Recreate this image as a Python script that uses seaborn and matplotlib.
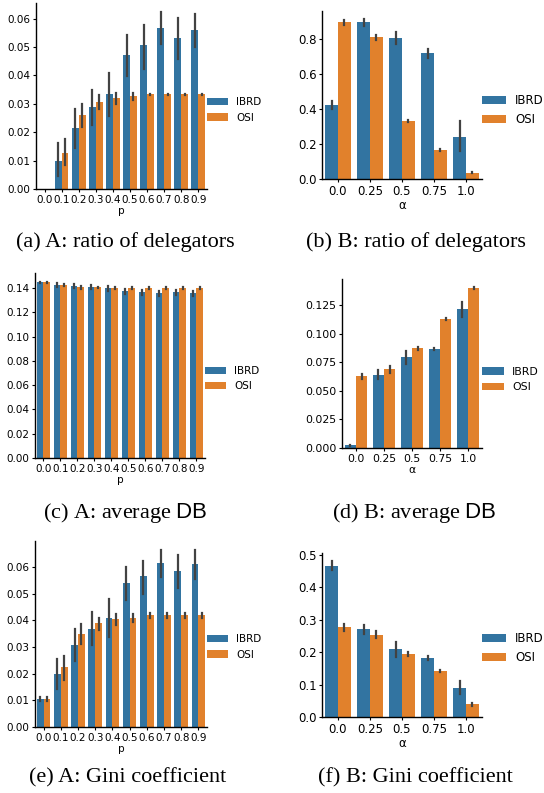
import pandas as pd
import matplotlib
matplotlib.use('Agg')
import matplotlib.pyplot as plt
import seaborn as sns
from matplotlib.ticker import MultipleLocator

plt.rcParams['mathtext.fontset'] = 'custom'
plt.rcParams['mathtext.sf'] = 'Liberation Sans'
plt.rcParams['mathtext.rm'] = 'Liberation Serif'

# categories
p_vals = ['0.0', '0.1', '0.2', '0.3', '0.4', '0.5', '0.6', '0.7', '0.8', '0.9']
alpha_vals = ['0.0', '0.25', '0.5', '0.75', '1.0']
methods = ['IBRD', 'OSI']

# (a) A: ratio of delegators
a_ibrd = [0.0, 0.0099, 0.0214, 0.0288, 0.0333, 0.0472, 0.0508, 0.0568, 0.0533, 0.0561]
a_ibrd_lo = [0.0, 0.0044, 0.0143, 0.0225, 0.0258, 0.0399, 0.0424, 0.0510, 0.0458, 0.0499]
a_ibrd_hi = [0.0, 0.0161, 0.0283, 0.0350, 0.0409, 0.0542, 0.0577, 0.0624, 0.0603, 0.0615]
a_osi = [0.0, 0.0127, 0.0260, 0.0305, 0.0319, 0.0326, 0.0333, 0.0333, 0.0333, 0.0333]
a_osi_lo = [0.0, 0.0085, 0.0217, 0.0280, 0.0300, 0.0315, 0.0331, 0.0331, 0.0331, 0.0331]
a_osi_hi = [0.0, 0.0176, 0.0301, 0.0330, 0.0337, 0.0337, 0.0335, 0.0335, 0.0335, 0.0335]

# (b) B: ratio of delegators
b_ibrd = [0.425, 0.898, 0.807, 0.722, 0.240]
b_ibrd_lo = [0.402, 0.876, 0.771, 0.696, 0.163]
b_ibrd_hi = [0.446, 0.917, 0.841, 0.747, 0.331]
b_osi = [0.898, 0.813, 0.331, 0.166, 0.036]
b_osi_lo = [0.885, 0.798, 0.326, 0.163, 0.032]
b_osi_hi = [0.909, 0.826, 0.336, 0.169, 0.040]

# (c) A: average DB
c_ibrd = [0.1446, 0.1427, 0.1416, 0.1408, 0.1397, 0.1372, 0.1364, 0.1356, 0.1364, 0.1356]
c_ibrd_lo = [0.1441, 0.1409, 0.1398, 0.1390, 0.1377, 0.1352, 0.1344, 0.1334, 0.1344, 0.1336]
c_ibrd_hi = [0.1451, 0.1445, 0.1434, 0.1426, 0.1417, 0.1392, 0.1384, 0.1378, 0.1384, 0.1376]
c_osi = [0.1446, 0.1427, 0.1405, 0.1405, 0.1400, 0.1400, 0.1400, 0.1400, 0.1400, 0.1400]
c_osi_lo = [0.1441, 0.1417, 0.1395, 0.1398, 0.1392, 0.1393, 0.1393, 0.1393, 0.1393, 0.1393]
c_osi_hi = [0.1451, 0.1437, 0.1415, 0.1412, 0.1408, 0.1407, 0.1407, 0.1407, 0.1407, 0.1407]

# (d) B: average DB
d_ibrd = [0.0023, 0.0637, 0.0794, 0.0864, 0.1215]
d_ibrd_lo = [0.0018, 0.0602, 0.0733, 0.0857, 0.1142]
d_ibrd_hi = [0.0028, 0.0680, 0.0850, 0.0871, 0.1280]
d_osi = [0.0628, 0.0689, 0.0870, 0.1127, 0.1399]
d_osi_lo = [0.0599, 0.0657, 0.0860, 0.1117, 0.1392]
d_osi_hi = [0.0651, 0.0715, 0.0880, 0.1137, 0.1406]

# (e) A: Gini coefficient
e_ibrd = [0.0106, 0.0198, 0.0306, 0.0369, 0.0410, 0.0541, 0.0565, 0.0616, 0.0586, 0.0610]
e_ibrd_lo = [0.0098, 0.0144, 0.0248, 0.0306, 0.0338, 0.0475, 0.0500, 0.0563, 0.0523, 0.0554]
e_ibrd_hi = [0.0114, 0.0256, 0.0369, 0.0431, 0.0479, 0.0599, 0.0625, 0.0664, 0.0646, 0.0665]
e_osi = [0.0104, 0.0224, 0.0351, 0.0389, 0.0404, 0.0410, 0.0419, 0.0419, 0.0419, 0.0419]
e_osi_lo = [0.0097, 0.0176, 0.0313, 0.0366, 0.0384, 0.0394, 0.0411, 0.0411, 0.0411, 0.0411]
e_osi_hi = [0.0111, 0.0268, 0.0388, 0.0411, 0.0423, 0.0425, 0.0427, 0.0427, 0.0427, 0.0427]

# (f) B: Gini coefficient
f_ibrd = [0.467, 0.271, 0.210, 0.183, 0.091]
f_ibrd_lo = [0.454, 0.256, 0.186, 0.177, 0.071]
f_ibrd_hi = [0.482, 0.284, 0.232, 0.189, 0.110]
f_osi = [0.277, 0.253, 0.194, 0.142, 0.039]
f_osi_lo = [0.267, 0.243, 0.187, 0.138, 0.035]
f_osi_hi = [0.286, 0.264, 0.201, 0.146, 0.043]


def to_long(cats, ibrd, ibrd_lo, ibrd_hi, osi, osi_lo, osi_hi):
    # three rows per bar: the median is the bar, min..max is the error bar
    rows = []
    for name, m, lo, hi in [('IBRD', ibrd, ibrd_lo, ibrd_hi), ('OSI', osi, osi_lo, osi_hi)]:
        for c, v, l, h in zip(cats, m, lo, hi):
            for val in (l, v, h):
                rows.append({'x': c, 'method': name, 'value': val})
    return pd.DataFrame(rows)


panels = [
    # data, cats, xlabel, axes rect, tick size, ystep, legend y
    (to_long(p_vals, a_ibrd, a_ibrd_lo, a_ibrd_hi, a_osi, a_osi_lo, a_osi_hi),
     p_vals, 'p', [0.0662, 0.7617, 0.314, 0.2346], 7.5, 0.01, 0.425),
    (to_long(alpha_vals, b_ibrd, b_ibrd_lo, b_ibrd_hi, b_osi, b_osi_lo, b_osi_hi),
     alpha_vals, 'α', [0.5919, 0.7743, 0.2941, 0.2119], 8.5, 0.2, 0.41),
    (to_long(p_vals, c_ibrd, c_ibrd_lo, c_ibrd_hi, c_osi, c_osi_lo, c_osi_hi),
     p_vals, 'p', [0.0643, 0.4224, 0.3125, 0.2333], 7.5, 0.02, 0.43),
    (to_long(alpha_vals, d_ibrd, d_ibrd_lo, d_ibrd_hi, d_osi, d_osi_lo, d_osi_hi),
     alpha_vals, 'α', [0.6287, 0.4350, 0.2574, 0.2131], 7.8, 0.025, 0.405),
    (to_long(p_vals, e_ibrd, e_ibrd_lo, e_ibrd_hi, e_osi, e_osi_lo, e_osi_hi),
     p_vals, 'p', [0.0643, 0.0832, 0.3162, 0.2346], 7.5, 0.01, 0.43),
    (to_long(alpha_vals, f_ibrd, f_ibrd_lo, f_ibrd_hi, f_osi, f_osi_lo, f_osi_hi),
     alpha_vals, 'α', [0.5919, 0.0958, 0.2941, 0.2068], 8.5, 0.1, 0.42),
]

captions = [
    (0.230, 0.695, '(a) A: ratio of delegators'),
    (0.765, 0.695, '(b) B: ratio of delegators'),
    (0.230, 0.353, '(c) A: average $\\mathsf{DB}$'),
    (0.762, 0.353, '(d) B: average $\\mathsf{DB}$'),
    (0.235, 0.019, '(e) A: Gini coefficient'),
    (0.763, 0.019, '(f) B: Gini coefficient'),
]

fig = plt.figure(figsize=(5.44, 7.93), dpi=100)

for df, cats, xlab, rect, fs, ystep, leg_y in panels:
    ax = fig.add_axes(rect)
    sns.barplot(data=df, x='x', y='value', hue='method', order=cats, hue_order=methods,
                estimator='median', errorbar=('pi', 100), err_kws={'linewidth': 1.6},
                ax=ax)
    sns.despine(ax=ax)
    ax.yaxis.set_major_locator(MultipleLocator(ystep))
    ax.set_xlabel(xlab, fontsize=fs, labelpad=1)
    ax.set_ylabel('')
    ax.tick_params(labelsize=fs, length=2.5, pad=1.5)
    for s in ['left', 'bottom']:
        ax.spines[s].set_linewidth(1.0)
    ax.legend(loc='center left', bbox_to_anchor=(1.0, leg_y), frameon=False,
              fontsize=fs, borderaxespad=0, borderpad=0, handletextpad=0.8)

for x, y, txt in captions:
    fig.text(x, y, txt, ha='center', va='center', fontsize=16, family='Liberation Serif')

fig.savefig('out.png', dpi=100)
